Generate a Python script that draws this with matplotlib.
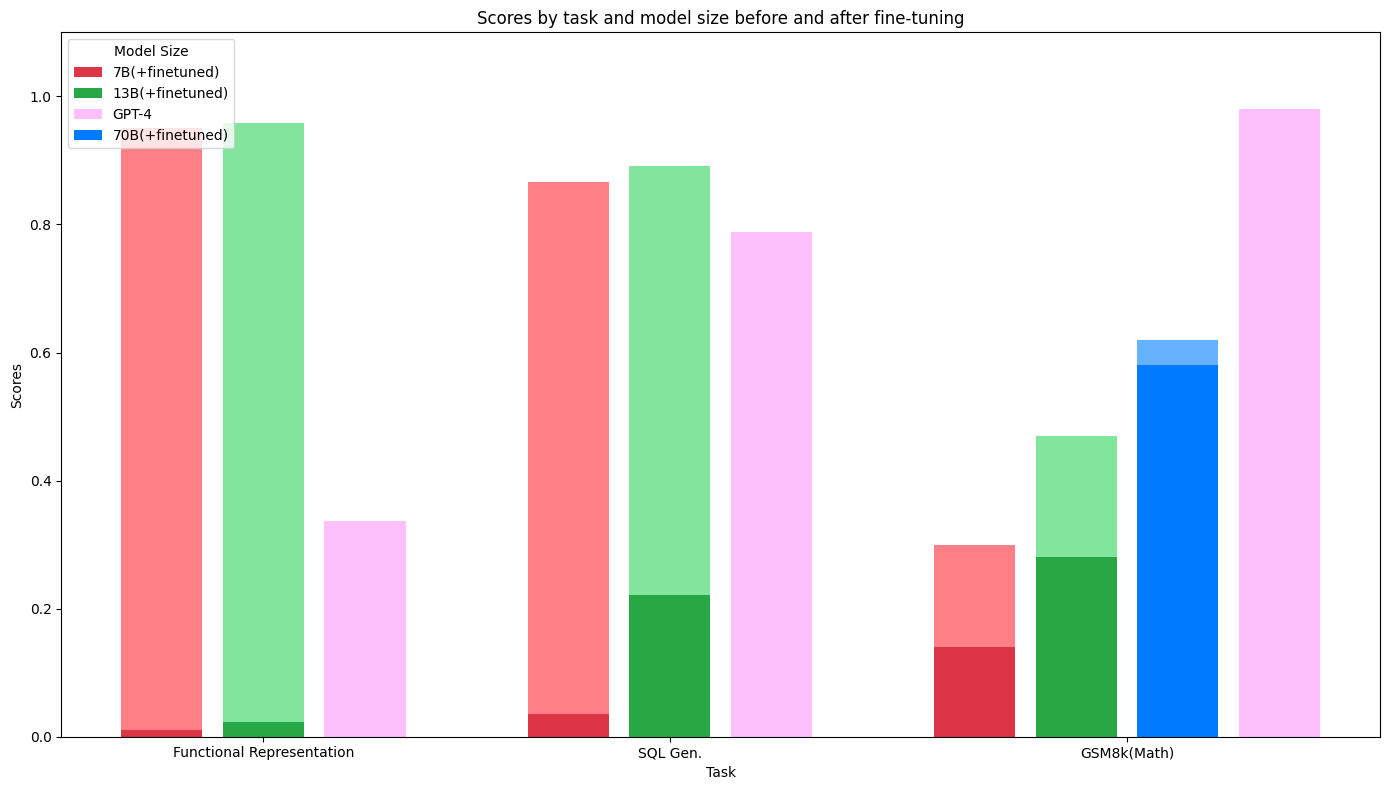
import numpy as np
import matplotlib.pyplot as plt

tasks = ['Functional Representation', 'SQL Gen.', 'GSM8k(Math)']

# base scores and scores after fine-tuning
b7_base = [0.01, 0.036, 0.14]
b7_tuned = [0.95, 0.866, 0.30]
b13_base = [0.023, 0.222, 0.28]
b13_tuned = [0.958, 0.891, 0.47]
b70_base = [0.58]
b70_tuned = [0.62]
gpt4 = [0.337, 0.788, 0.98]

width = 0.2
step = 0.25
x = np.arange(len(tasks))

fig, ax = plt.subplots(figsize=(14, 8))

ax.bar(x, b7_tuned, width, color='#ff7f87')
h7 = ax.bar(x, b7_base, width, color='#dc3545', label='7B(+finetuned)')
ax.bar(x + step, b13_tuned, width, color='#82e59c')
h13 = ax.bar(x + step, b13_base, width, color='#28a745', label='13B(+finetuned)')

# GPT-4 sits after 70B in the last group only
gpt_pos = x + 2 * step
gpt_pos[2] = x[2] + 3 * step
hg = ax.bar(gpt_pos, gpt4, width, color='#fdc0fd', label='GPT-4')

ax.bar(x[2:] + 2 * step, b70_tuned, width, color='#66b2ff')
h70 = ax.bar(x[2:] + 2 * step, b70_base, width, color='#007bff', label='70B(+finetuned)')

ticks = [x[0] + step, x[1] + step, x[2] + 1.5 * step]
ax.set_xticks(ticks)
ax.set_xticklabels(tasks)
ax.set_ylim(0, 1.1)
ax.set_xlabel('Task')
ax.set_ylabel('Scores')
ax.set_title('Scores by task and model size before and after fine-tuning')
ax.legend(handles=[h7, h13, hg, h70], title='Model Size', loc='upper left')

plt.tight_layout()
plt.savefig('out.png', bbox_inches='tight')
